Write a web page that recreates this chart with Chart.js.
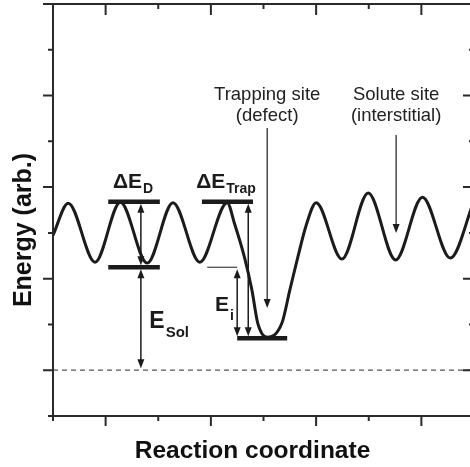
<!DOCTYPE html>
<html>
<head>
<meta charset="utf-8">
<script src="https://cdn.jsdelivr.net/npm/chart.js@4/dist/chart.umd.min.js"></script>
<style>
  html, body { margin: 0; padding: 0; background: #fff; overflow: hidden; width: 470px; height: 467px; }
  canvas { display: block; }
</style>
</head>
<body>
<canvas id="c" width="480" height="467"></canvas>
<script>
// Energy landscape along the reaction coordinate (extrema and a few points on the trap well)
const coordX = [0, 0.29, 0.80, 1.28, 1.79, 2.28, 2.79, 3.31, 3.45, 3.64, 3.78, 3.89, 4.07, 4.35, 4.50, 4.65, 4.82, 5.00, 5.49, 5.99, 6.51, 7.02, 7.55, 8.0];
const energy = [3.95, 4.65, 3.36, 4.67, 3.34, 4.66, 3.36, 4.66, 4.20, 3.46, 2.75, 2.03, 1.72, 2.03, 2.75, 3.46, 4.20, 4.66, 3.43, 4.87, 3.41, 4.78, 3.45, 4.70];

// Reference energy (dashed line)
const refEnergy = 1.0;

// Energy levels (thick bars): start, end, energy
const levelFrom = [1.05, 1.05, 2.83, 3.50];
const levelTo   = [2.03, 2.03, 3.80, 4.45];
const levelE    = [4.68, 3.25, 4.68, 1.70];

// Double-headed energy differences: coordinate, upper energy, lower energy
const gapAt    = [1.67, 1.67, 3.71, 3.50];
const gapUpper = [4.68, 3.25, 4.68, 3.25];
const gapLower = [3.25, refEnergy, 1.70, 1.70];

// Pointer arrows below the site labels: coordinate, start energy, tip energy
const pointerAt   = [4.07, 6.52];
const pointerFrom = [6.29, 6.14];
const pointerTo   = [2.36, 4.00];

// Thin guide from the lattice site level to the E_i arrow
const guideFrom = 2.93, guideTo = 3.50, guideE = 3.25;

// Axis extents
const xMin = 0, xMax = 8, yMin = 0, yMax = 9;

const INK = '#1b1b1b';
const FONT = '"Liberation Sans", Arial, Helvetica, sans-serif';

// Text annotations (anchor in data units, pixel nudges kept in drawing code)
const symbolLabels = [
  { main: 'ΔE', sub: 'D',    x: 1.14, y: 4.98, size: 21, subSize: 14, drop: 5 },
  { main: 'ΔE', sub: 'Trap', x: 2.72, y: 4.98, size: 21, subSize: 14, drop: 5 },
  { main: 'E',  sub: 'Sol',  x: 1.83, y: 1.92, size: 23, subSize: 15, drop: 9 },
  { main: 'E',  sub: 'i',    x: 3.08, y: 2.29, size: 21, subSize: 14, drop: 9 }
];
const siteLabels = [
  { lines: ['Trapping site', '(defect)'], x: 4.07 },
  { lines: ['Solute site', '(interstitial)'], x: 6.52 }
];

function levelData() {
  const pts = [];
  for (let i = 0; i < levelE.length; i++) {
    pts.push({ x: levelFrom[i], y: levelE[i] });
    pts.push({ x: levelTo[i], y: levelE[i] });
    pts.push({ x: levelTo[i], y: null });
  }
  return pts;
}

function arrowHead(ctx, x, y, dir) {
  // dir: -1 points up, +1 points down
  const len = 9, half = 3.5;
  ctx.beginPath();
  ctx.moveTo(x, y);
  ctx.lineTo(x - half, y - dir * len);
  ctx.lineTo(x + half, y - dir * len);
  ctx.closePath();
  ctx.fill();
}

const decorations = {
  id: 'decorations',
  afterDatasetsDraw(chart) {
    const { ctx, scales: { x, y } } = chart;
    ctx.save();
    ctx.strokeStyle = INK;
    ctx.fillStyle = INK;
    ctx.lineWidth = 1.5;

    // guide line for E_i
    ctx.lineWidth = 1;
    ctx.beginPath();
    ctx.moveTo(x.getPixelForValue(guideFrom), y.getPixelForValue(guideE));
    ctx.lineTo(x.getPixelForValue(guideTo), y.getPixelForValue(guideE));
    ctx.stroke();

    // double-headed arrows
    ctx.lineWidth = 1.5;
    for (let i = 0; i < gapAt.length; i++) {
      const px = x.getPixelForValue(gapAt[i]);
      const top = y.getPixelForValue(gapUpper[i]) + 2;
      const bot = y.getPixelForValue(gapLower[i]) - 2;
      ctx.beginPath();
      ctx.moveTo(px, top + 4);
      ctx.lineTo(px, bot - 4);
      ctx.stroke();
      arrowHead(ctx, px, top, -1);
      arrowHead(ctx, px, bot, 1);
    }

    // pointer arrows
    ctx.lineWidth = 1.2;
    for (let i = 0; i < pointerAt.length; i++) {
      const px = x.getPixelForValue(pointerAt[i]);
      const from = y.getPixelForValue(pointerFrom[i]);
      const to = y.getPixelForValue(pointerTo[i]);
      ctx.beginPath();
      ctx.moveTo(px, from);
      ctx.lineTo(px, to - 4);
      ctx.stroke();
      arrowHead(ctx, px, to, 1);
    }

    // symbol labels with subscripts
    ctx.textAlign = 'left';
    ctx.textBaseline = 'alphabetic';
    for (const l of symbolLabels) {
      const px = x.getPixelForValue(l.x);
      const py = y.getPixelForValue(l.y);
      ctx.font = 'bold ' + l.size + 'px ' + FONT;
      ctx.fillText(l.main, px, py);
      const w = ctx.measureText(l.main).width;
      ctx.font = 'bold ' + l.subSize + 'px ' + FONT;
      ctx.fillText(l.sub, px + w + 1, py + l.drop);
    }

    // site labels
    ctx.textAlign = 'center';
    ctx.font = '18.5px ' + FONT;
    ctx.fillStyle = '#222';
    for (const s of siteLabels) {
      const px = x.getPixelForValue(s.x);
      ctx.fillText(s.lines[0], px, 100);
      ctx.fillText(s.lines[1], px, 121);
    }
    ctx.restore();
  },
  afterDraw(chart) {
    const { ctx, chartArea: a, scales: { x, y } } = chart;
    ctx.save();
    ctx.strokeStyle = '#2a2a2a';
    ctx.lineWidth = 2;
    ctx.strokeRect(a.left, a.top, a.right - a.left, a.bottom - a.top);

    ctx.lineWidth = 2;
    // x ticks: outward at bottom, inward at top; odd values are major
    for (const t of x.ticks) {
      const px = x.getPixelForValue(t.value);
      const major = Math.round(t.value) % 2 === 1;
      const len = major ? 10 : 5;
      ctx.beginPath();
      ctx.moveTo(px, a.bottom);
      ctx.lineTo(px, a.bottom + len);
      ctx.moveTo(px, a.top);
      ctx.lineTo(px, a.top + (major ? 11 : 5));
      ctx.stroke();
    }
    // y ticks: outward at left, inward at right
    for (const t of y.ticks) {
      const py = y.getPixelForValue(t.value);
      const major = Math.round(t.value) % 2 === 1;
      ctx.beginPath();
      ctx.moveTo(a.left, py);
      ctx.lineTo(a.left - (major ? 10 : 5), py);
      ctx.moveTo(a.right, py);
      ctx.lineTo(a.right - (major ? 11 : 5), py);
      ctx.stroke();
    }

    // axis titles
    ctx.fillStyle = '#111';
    ctx.textAlign = 'center';
    ctx.textBaseline = 'alphabetic';
    ctx.font = 'bold 24.5px ' + FONT;
    ctx.fillText('Reaction coordinate', 252.5, 458);
    ctx.translate(31, 230);
    ctx.rotate(-Math.PI / 2);
    ctx.font = 'bold 25px ' + FONT;
    ctx.fillText('Energy (arb.)', 0, 0);
    ctx.restore();
  }
};

new Chart(document.getElementById('c'), {
  type: 'line',
  data: {
    datasets: [
      {
        label: 'levels',
        data: levelData(),
        borderColor: INK,
        borderWidth: 4.5,
        borderCapStyle: 'butt',
        pointRadius: 0,
        spanGaps: false,
        order: 0
      },
      {
        label: 'energy',
        data: coordX.map((v, i) => ({ x: v, y: energy[i] })),
        borderColor: INK,
        borderWidth: 3,
        cubicInterpolationMode: 'monotone',
        borderJoinStyle: 'round',
        borderCapStyle: 'round',
        pointRadius: 0,
        order: 1
      },
      {
        label: 'reference',
        data: [{ x: xMin, y: refEnergy }, { x: xMax, y: refEnergy }],
        borderColor: '#555',
        borderWidth: 1.2,
        borderDash: [5, 4],
        pointRadius: 0,
        order: 2
      }
    ]
  },
  options: {
    responsive: false,
    animation: false,
    devicePixelRatio: 1,
    layout: { padding: { left: 53, right: 6, top: 4, bottom: 51 } },
    plugins: { legend: { display: false }, tooltip: { enabled: false } },
    scales: {
      x: { type: 'linear', min: xMin, max: xMax, display: false, ticks: { stepSize: 1 } },
      y: { type: 'linear', min: yMin, max: yMax, display: false, ticks: { stepSize: 1 } }
    }
  },
  plugins: [decorations]
});
</script>
</body>
</html>
